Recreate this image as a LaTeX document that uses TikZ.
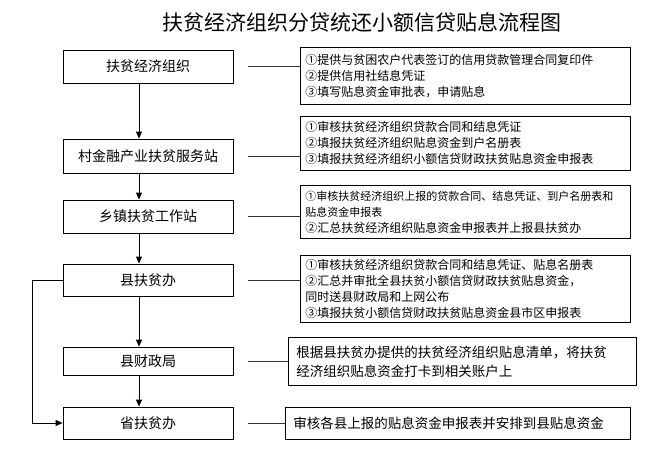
\documentclass[tikz,border=0pt]{standalone}
\usepackage{fontspec}
\usetikzlibrary{arrows.meta}
\newfontfamily\cjk{Noto Sans CJK SC}

\begin{document}
\begin{tikzpicture}[x=1pt,y=-1pt,
  unit/.style={draw,line width=0.8pt,minimum width=170pt,minimum height=33pt,inner sep=0pt,font=\cjk\fontsize{14}{16}\selectfont},
  note/.style={draw,line width=0.8pt,anchor=north west,align=left,inner xsep=5pt,inner ysep=3pt,font=\cjk\fontsize{12}{16}\selectfont},
  flow/.style={-{Triangle[length=7pt,width=6pt]},line width=0.9pt},
  tie/.style={line width=0.9pt,draw=black!80}
]
\useasboundingbox (0,0) rectangle (655,473);
\node[font=\cjk\fontsize{21}{24}\selectfont] (title) at (362,22) {扶贫经济组织分贷统还小额信贷贴息流程图};

% left column
\node[unit] (org) at (148,66.5) {扶贫经济组织};
\node[unit,minimum height=34pt] (vill) at (148,156) {村金融产业扶贫服务站};
\node[unit] (town) at (148,216.5) {乡镇扶贫工作站};
\node[unit,minimum height=32pt] (county) at (148,280) {县扶贫办};
\node[unit,minimum height=28pt] (fin) at (148,361) {县财政局};
\node[unit,minimum height=32pt] (prov) at (148,423) {省扶贫办};

\draw[flow] ([xshift=-9pt]org.south) -- ([xshift=-9pt]vill.north);
\draw[flow] ([xshift=-9pt]vill.south) -- ([xshift=-9pt]town.north);
\draw[flow] ([xshift=-9pt]town.south) -- ([xshift=-9pt]county.north);
\draw[flow] ([xshift=-9pt]county.south) -- ([xshift=-9pt]fin.north);
\draw[flow] ([xshift=-9pt]fin.south) -- ([xshift=-9pt]prov.north);
\draw[flow] (county.west) -- ++(-30,0) |- (prov.west);

% right column
\node[note,text width=320pt,minimum height=57pt] (n1) at (300,47)
  {①提供与贫困农户代表签订的信用贷款管理合同复印件\\②提供信用社结息凭证\\③填写贴息资金审批表，申请贴息};
\node[note,text width=320pt,minimum height=54pt] (n2) at (300,116)
  {①审核扶贫经济组织贷款合同和结息凭证\\②填报扶贫经济组织贴息资金到户名册表\\③填报扶贫经济组织小额信贷财政扶贫贴息资金申报表};
\node[note,text width=320pt,minimum height=53pt] (n3) at (300,185)
  {\fontsize{11}{16}\selectfont ①审核扶贫经济组织上报的贷款合同、结息凭证、到户名册表和\\贴息资金申报表\\\fontsize{12}{16}\selectfont ②汇总扶贫经济组织贴息资金申报表并上报县扶贫办};
\node[note,text width=320pt,minimum height=67pt] (n4) at (300,255)
  {①审核扶贫经济组织贷款合同和结息凭证、贴息名册表\\②汇总并审批全县扶贫小额信贷财政扶贫贴息资金，\\同时送县财政局和上网公布\\③填报扶贫小额信贷财政扶贫贴息资金县市区申报表};
\node[note,text width=332pt,minimum height=48pt,inner xsep=8pt,font=\cjk\fontsize{13.5}{19}\selectfont] (n5) at (288,337)
  {根据县扶贫办提供的扶贫经济组织贴息清单，将扶贫\\经济组织贴息资金打卡到相关账户上};
\node[note,text width=329pt,minimum height=32pt,inner xsep=8pt,font=\cjk\fontsize{13.5}{19}\selectfont] (n6) at (285,407)
  {审核各县上报的贴息资金申报表并安排到县贴息资金};

\draw[tie] ([xshift=15pt]org.east) -- (org.east -| n1.west);
\draw[tie] ([xshift=15pt]vill.east) -- (vill.east -| n2.west);
\draw[tie] ([xshift=15pt]town.east) -- (town.east -| n3.west);
\draw[tie] ([xshift=15pt]county.east) -- (county.east -| n4.west);
\draw[tie] ([xshift=15pt]fin.east) -- (fin.east -| n5.west);
\draw[tie] ([xshift=15pt]prov.east) -- (prov.east -| n6.west);
\end{tikzpicture}
\end{document}
